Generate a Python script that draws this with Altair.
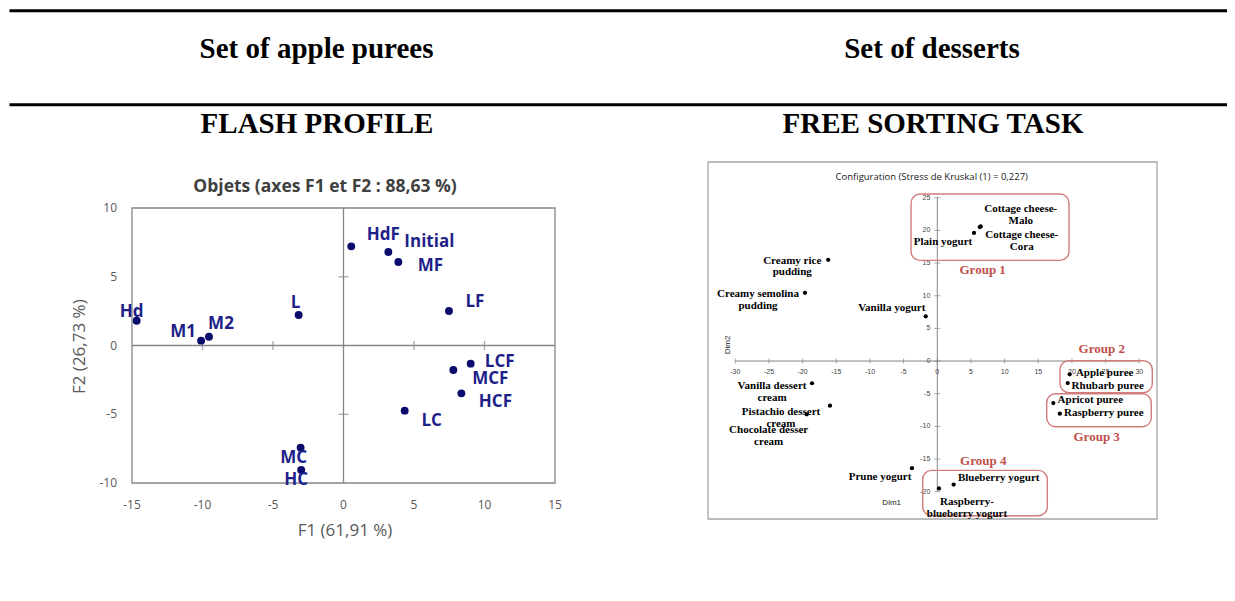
import altair as alt
import pandas as pd

# ---------------- data ----------------
headers = ["Set of apple purees", "Set of desserts"]
panel_titles = ["FLASH PROFILE", "FREE SORTING TASK"]

# Flash profile (left)
fp_title = "Objets (axes F1 et F2 : 88,63 %)"
fp_xtitle = "F1 (61,91 %)"
fp_ytitle = "F2 (26,73 %)"
fp_names = ["Hd", "M1", "M2", "L", "HdF", "Initial", "MF", "LF",
            "LCF", "MCF", "HCF", "LC", "MC", "HC"]
fp_f1 = [-14.67, -10.1, -9.54, -3.18, 0.55, 3.18, 3.89, 7.48,
         9.02, 7.79, 8.36, 4.34, -3.04, -3.0]
fp_f2 = [1.8, 0.35, 0.64, 2.22, 7.21, 6.8, 6.07, 2.51,
         -1.32, -1.78, -3.48, -4.74, -7.43, -9.05]
fp_xticks = [-15, -10, -5, 0, 5, 10, 15]
fp_yticks = [-10, -5, 0, 5, 10]

# Free sorting task (right)
fs_title = "Configuration (Stress de Kruskal (1) = 0,227)"
fs_names = ["Plain yogurt", "Cottage cheese-\nCora", "Cottage cheese-\nMalo",
            "Creamy rice\npudding", "Creamy semolina\npudding", "Vanilla yogurt",
            "Vanilla dessert\ncream", "Pistachio dessert\ncream",
            "Chocolate desser\ncream", "Prune yogurt",
            "Raspberry-\nblueberry yogurt", "Blueberry yogurt",
            "Apple puree", "Rhubarb puree", "Apricot puree", "Raspberry puree"]
fs_dim1 = [5.45, 6.3, 6.45, -16.2, -19.65, -1.72, -18.6, -15.94,
           -19.4, -3.76, 0.25, 2.43, 19.66, 19.37, 17.23, 18.2]
fs_dim2 = [19.6, 20.5, 20.6, 15.5, 10.45, 6.84, -3.4, -6.84,
           -8.16, -16.4, -19.5, -18.9, -2.04, -3.37, -6.43, -8.06]
fs_xticks = [-30, -25, -20, -15, -10, -5, 0, 5, 10, 15, 20, 25, 30]
fs_yticks = [-20, -15, -10, -5, 0, 5, 10, 15, 20, 25]
groups = ["Group 1", "Group 2", "Group 3", "Group 4"]
group_dim1 = [6.74, 24.42, 23.67, 6.83]
group_dim2 = [13.93, 1.79, -11.59, -15.26]
box_dim1_lo = [-3.9, 18.22, 16.25, -2.17]
box_dim1_hi = [19.56, 31.93, 31.78, 16.34]
box_dim2_lo = [15.41, -4.85, -10.06, -23.68]
box_dim2_hi = [25.56, 0.05, -5.0, -16.73]

# ---------------- styles ----------------
fp_label_off = {"Hd": (-5, -9), "M1": (-18, -9), "M2": (12, -13), "L": (-3, -12),
                "HdF": (32, -11), "Initial": (41, -10), "MF": (32, 4), "LF": (26, -9),
                "LCF": (29, -2), "MCF": (37, 9), "HCF": (34, 9), "LC": (27, 10),
                "MC": (-7, 10), "HC": (-5, 10)}
fs_label_off = [(-31, 9), (42, 8), (40, -17), (-36, 1), (-47, 1.5), (-34, -8),
                (-40, 3), (-49, 6.5), (-38, 16), (-32, 8.4), (28, 14), (45, -6.7),
                (35, -1.6), (40, 2.7), (37, -3.3), (44, -0.4)]

SANS = "Open Sans"
SERIF = "Liberation Serif"
GRAY = "#868686"
NAVY_PT = "#0b0b6b"
NAVY_TX = "#1f1f8a"

xs_l = alt.Scale(domain=[-15, 15], range=[124, 547], nice=False, zero=False)
ys_l = alt.Scale(domain=[-10, 10], range=[475, 200], nice=False, zero=False)
xs_r = alt.Scale(domain=[-30, 30], range=[727.3, 1131.3], nice=False, zero=False)
ys_r = alt.Scale(domain=[-20, 25], range=[483.7, 189.7], nice=False, zero=False)

one = pd.DataFrame({"k": [0]})

# ---------------- header ----------------
hdr = []
for yv in [2.8, 96.7]:
    hdr.append(alt.Chart(one).mark_rule(color="black", strokeWidth=3).encode(
        x=alt.value(1.5), x2=alt.value(1219), y=alt.value(yv)))
for txt, xv in zip(headers, [308.5, 924]):
    hdr.append(alt.Chart(one).mark_text(text=txt, font=SERIF, fontWeight="bold", fontSize=29,
                                        align="center", baseline="alphabetic", color="black")
               .encode(x=alt.value(xv), y=alt.value(49.5)))
for txt, xv in zip(panel_titles, [309, 925]):
    hdr.append(alt.Chart(one).mark_text(text=txt, font=SERIF, fontWeight="bold", fontSize=29,
                                        align="center", baseline="alphabetic", color="black")
               .encode(x=alt.value(xv), y=alt.value(125.3)))
header = alt.layer(*hdr)

# ---------------- left panel ----------------
fp_df = pd.DataFrame({"name": fp_names, "f1": fp_f1, "f2": fp_f2, "idx": list(range(len(fp_names)))})
frame_l = pd.DataFrame({"x0": [fp_xticks[0]], "x1": [fp_xticks[-1]], "y0": [fp_yticks[0]], "y1": [fp_yticks[-1]]})
xt_l = pd.DataFrame({"v": fp_xticks})
yt_l = pd.DataFrame({"v": fp_yticks})

L = []
L.append(alt.Chart(frame_l).mark_rect(fill="white", fillOpacity=0, stroke=GRAY, strokeWidth=1.3).encode(
    x=alt.X("x0:Q", scale=xs_l, axis=None), x2="x1:Q",
    y=alt.Y("y0:Q", scale=ys_l, axis=None), y2="y1:Q"))
# zero lines
L.append(alt.Chart(frame_l).mark_rule(color=GRAY, strokeWidth=1.3).encode(
    x=alt.X("x0:Q", scale=xs_l, axis=None), x2="x1:Q",
    y=alt.Y("z:Q", scale=ys_l, axis=None)).transform_calculate(z="0"))
L.append(alt.Chart(frame_l).mark_rule(color=GRAY, strokeWidth=1.3).encode(
    y=alt.Y("y0:Q", scale=ys_l, axis=None), y2="y1:Q",
    x=alt.X("z:Q", scale=xs_l, axis=None)).transform_calculate(z="0"))
# tick marks on zero lines
L.append(alt.Chart(xt_l).transform_filter("datum.v != 0 && abs(datum.v) < 15").transform_calculate(z="0")
         .mark_tick(orient="vertical", size=9, thickness=1.3, color=GRAY).encode(
    x=alt.X("v:Q", scale=xs_l, axis=None), y=alt.Y("z:Q", scale=ys_l, axis=None)))
L.append(alt.Chart(yt_l).transform_filter("datum.v != 0 && abs(datum.v) < 10").transform_calculate(z="0")
         .mark_tick(orient="horizontal", size=10, thickness=1.3, color=GRAY).encode(
    y=alt.Y("v:Q", scale=ys_l, axis=None), x=alt.X("z:Q", scale=xs_l, axis=None)))
# tick labels (ASCII hyphen minus as in the reference)
L.append(alt.Chart(xt_l).transform_calculate(z=str(fp_yticks[0]), lab="'' + datum.v")
         .mark_text(font=SANS, fontSize=12, color="#595959", align="center", baseline="middle", dy=22)
         .encode(x=alt.X("v:Q", scale=xs_l, axis=None), y=alt.Y("z:Q", scale=ys_l, axis=None), text="lab:N"))
L.append(alt.Chart(yt_l).transform_calculate(z=str(fp_xticks[0]), lab="'' + datum.v")
         .mark_text(font=SANS, fontSize=12, color="#595959", align="right", baseline="middle", dx=-15)
         .encode(y=alt.Y("v:Q", scale=ys_l, axis=None), x=alt.X("z:Q", scale=xs_l, axis=None), text="lab:N"))
# titles
L.append(alt.Chart(one).mark_text(text=fp_title, font=SANS, fontWeight="bold", fontSize=17.5,
                                  color="#404040", align="center", baseline="middle")
         .encode(x=alt.value(317), y=alt.value(178.7)))
L.append(alt.Chart(one).mark_text(text=fp_xtitle, font=SANS, fontSize=17, color="#595959",
                                  align="center", baseline="middle")
         .encode(x=alt.value(337), y=alt.value(523)))
L.append(alt.Chart(one).mark_text(text=fp_ytitle, font=SANS, fontSize=17, color="#595959",
                                  align="center", baseline="middle", angle=270)
         .encode(x=alt.value(72), y=alt.value(338.7)))
# points
L.append(alt.Chart(fp_df).mark_circle(size=62, color=NAVY_PT, opacity=1).encode(
    x=alt.X("f1:Q", scale=xs_l, axis=None), y=alt.Y("f2:Q", scale=ys_l, axis=None)))
# labels
for i, n in enumerate(fp_names):
    dx, dy = fp_label_off[n]
    L.append(alt.Chart(fp_df).transform_filter(alt.datum.idx == i)
             .mark_text(font=SANS, fontWeight="bold", fontSize=17, color=NAVY_TX,
                        align="center", baseline="middle", dx=dx, dy=dy)
             .encode(x=alt.X("f1:Q", scale=xs_l, axis=None), y=alt.Y("f2:Q", scale=ys_l, axis=None),
                     text="name:N"))
left = alt.layer(*L)

# ---------------- right panel ----------------
fs_df = pd.DataFrame({"name": fs_names, "d1": fs_dim1, "d2": fs_dim2, "idx": list(range(len(fs_names)))})
gr_df = pd.DataFrame({"g": groups, "d1": group_dim1, "d2": group_dim2,
                      "x0": box_dim1_lo, "x1": box_dim1_hi, "y0": box_dim2_lo, "y1": box_dim2_hi})
axes_r = pd.DataFrame({"x0": [fs_xticks[0]], "x1": [fs_xticks[-1]], "y0": [fs_yticks[0]], "y1": [fs_yticks[-1]]})
xt_r = pd.DataFrame({"v": fs_xticks})
yt_r = pd.DataFrame({"v": fs_yticks})

R = []
R.append(alt.Chart(one).mark_rect(fill="white", fillOpacity=0, stroke="#a6a6a6", strokeWidth=1.3).encode(
    x=alt.value(700), x2=alt.value(1149), y=alt.value(154), y2=alt.value(511)))
R.append(alt.Chart(one).mark_text(text=fs_title, font=SANS, fontSize=9.5, color="#1a1a1a",
                                  align="center", baseline="middle")
         .encode(x=alt.value(923.7), y=alt.value(169)))
R.append(alt.Chart(axes_r).mark_rule(color=GRAY, strokeWidth=1).encode(
    x=alt.X("x0:Q", scale=xs_r, axis=None), x2="x1:Q",
    y=alt.Y("z:Q", scale=ys_r, axis=None)).transform_calculate(z="0"))
R.append(alt.Chart(axes_r).mark_rule(color=GRAY, strokeWidth=1).encode(
    y=alt.Y("y0:Q", scale=ys_r, axis=None), y2="y1:Q",
    x=alt.X("z:Q", scale=xs_r, axis=None)).transform_calculate(z="0"))
R.append(alt.Chart(xt_r).transform_calculate(z="0")
         .mark_tick(orient="vertical", size=5, thickness=1, color=GRAY).encode(
    x=alt.X("v:Q", scale=xs_r, axis=None), y=alt.Y("z:Q", scale=ys_r, axis=None)))
R.append(alt.Chart(yt_r).transform_calculate(z="0")
         .mark_tick(orient="horizontal", size=6, thickness=1, color=GRAY).encode(
    y=alt.Y("v:Q", scale=ys_r, axis=None), x=alt.X("z:Q", scale=xs_r, axis=None)))
R.append(alt.Chart(xt_r).transform_calculate(z="0", lab="'' + datum.v")
         .mark_text(font="Liberation Sans", fontSize=7, color="#404040", align="center", baseline="middle", dy=11)
         .encode(x=alt.X("v:Q", scale=xs_r, axis=None), y=alt.Y("z:Q", scale=ys_r, axis=None), text="lab:N"))
R.append(alt.Chart(yt_r).transform_calculate(z="0", lab="'' + datum.v")
         .mark_text(font="Liberation Sans", fontSize=7, color="#404040", align="right", baseline="middle", dx=-7)
         .encode(y=alt.Y("v:Q", scale=ys_r, axis=None), x=alt.X("z:Q", scale=xs_r, axis=None), text="lab:N"))
R.append(alt.Chart(one).mark_text(text="Dim2", font="Liberation Sans", fontSize=8, color="#1a1a1a",
                                  align="center", baseline="middle", angle=270)
         .encode(x=alt.value(720.3), y=alt.value(337)))
R.append(alt.Chart(one).mark_text(text="Dim1", font="Liberation Sans", fontSize=8, color="#1a1a1a",
                                  align="center", baseline="middle")
         .encode(x=alt.value(883.7), y=alt.value(494.7)))
# group boxes and labels
R.append(alt.Chart(gr_df).mark_rect(fill="white", fillOpacity=0, stroke="#d27c7b", strokeWidth=1.4,
                                    cornerRadius=9).encode(
    x=alt.X("x0:Q", scale=xs_r, axis=None), x2="x1:Q",
    y=alt.Y("y0:Q", scale=ys_r, axis=None), y2="y1:Q"))
R.append(alt.Chart(gr_df).mark_text(font=SERIF, fontWeight="bold", fontSize=13, color="#c0504d",
                                    align="center", baseline="middle")
         .encode(x=alt.X("d1:Q", scale=xs_r, axis=None), y=alt.Y("d2:Q", scale=ys_r, axis=None), text="g:N"))
# points
R.append(alt.Chart(fs_df).mark_circle(size=18, color="black", opacity=1).encode(
    x=alt.X("d1:Q", scale=xs_r, axis=None), y=alt.Y("d2:Q", scale=ys_r, axis=None)))
for i in range(len(fs_names)):
    dx, dy = fs_label_off[i]
    R.append(alt.Chart(fs_df).transform_filter(alt.datum.idx == i)
             .mark_text(font=SERIF, fontWeight="bold", fontSize=11, color="black", lineBreak="\n",
                        lineHeight=11.7, align="center", baseline="middle", dx=dx, dy=dy)
             .encode(x=alt.X("d1:Q", scale=xs_r, axis=None), y=alt.Y("d2:Q", scale=ys_r, axis=None),
                     text="name:N"))
right = alt.layer(*R)

chart = alt.layer(header, left, right).resolve_scale(x="independent", y="independent").properties(
    width=1219, height=585, padding=0, autosize="none"
).configure_view(stroke=None)

chart.save("out.html", embed_options={"renderer": "svg", "actions": False})
